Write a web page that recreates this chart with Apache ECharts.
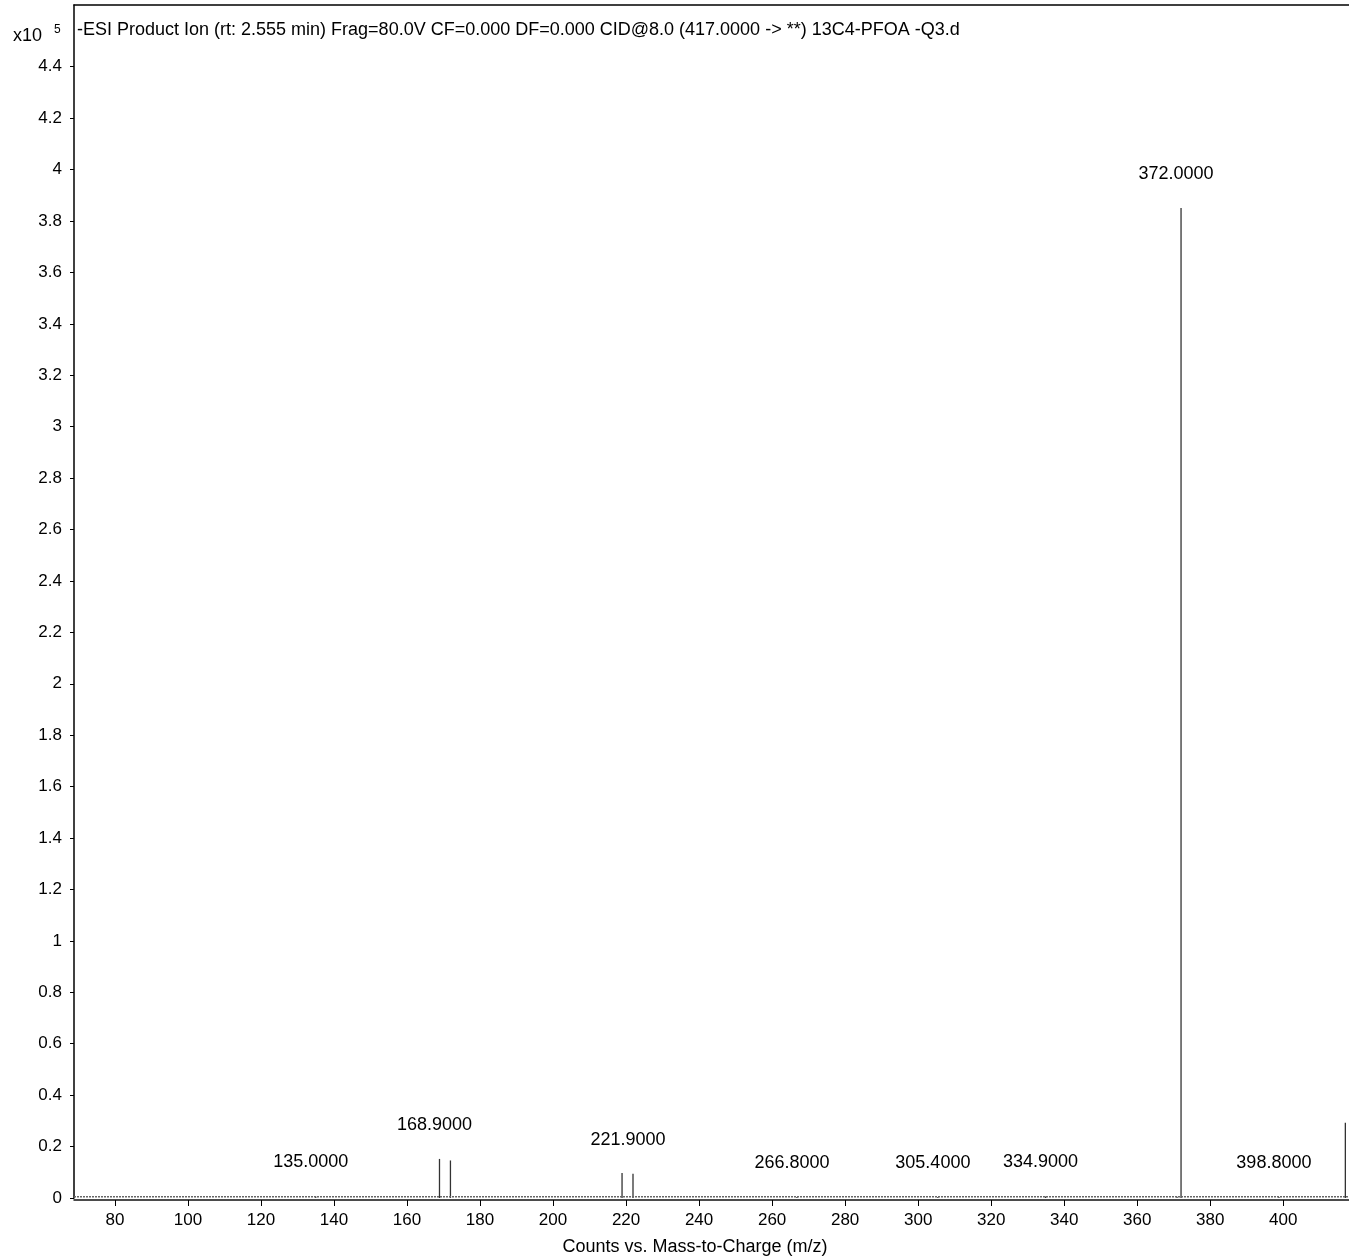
<!DOCTYPE html>
<html>
<head>
<meta charset="utf-8">
<script src="https://cdn.jsdelivr.net/npm/echarts@6/dist/echarts.min.js"></script>
<style>
html,body{margin:0;padding:0;background:#fff;}
#chart{width:1349px;height:1259px;}
</style>
</head>
<body>
<div id="chart"></div>
<script>
// ---- data ----
const titleText = '-ESI Product Ion (rt: 2.555 min) Frag=80.0V CF=0.000 DF=0.000 CID@8.0 (417.0000 -> **) 13C4-PFOA -Q3.d';
const xAxisName = 'Counts vs. Mass-to-Charge (m/z)';
const peakMz =        [135.0, 168.9, 171.9, 218.9, 221.9, 266.8, 305.4, 334.9, 370.9, 372.0, 398.8, 417.0];
const peakIntensity = [0.006, 0.152, 0.146, 0.097, 0.094, 0.004, 0.004, 0.006, 0.005, 3.850, 0.004, 0.293];
const labelledMz = [135.0, 168.9, 221.9, 266.8, 305.4, 334.9, 372.0, 398.8];
const labelTexts = ['135.0000', '168.9000', '221.9000', '266.8000', '305.4000', '334.9000', '372.0000', '398.8000'];
const baselineNoise = [[68.8, 0.005], [418.1, 0.005]];
const xTicks = [80, 100, 120, 140, 160, 180, 200, 220, 240, 260, 280, 300, 320, 340, 360, 380, 400];
const yTicks = [0, 0.2, 0.4, 0.6, 0.8, 1, 1.2, 1.4, 1.6, 1.8, 2, 2.2, 2.4, 2.6, 2.8, 3, 3.2, 3.4, 3.6, 3.8, 4, 4.2, 4.4];
const xRange = [68.8, 418.0];
const yRange = [0, 4.64];

// ---- chart ----
const FONT = "'Liberation Sans', Arial, sans-serif";
const chart = echarts.init(document.getElementById('chart'), null, {renderer: 'canvas'});

const peakData = peakMz.map((m, i) => {
  const li = labelledMz.indexOf(m);
  return [m, peakIntensity[i], li >= 0 ? labelTexts[li] : ''];
});

const option = {
  animation: false,
  backgroundColor: '#fff',
  textStyle: {fontFamily: FONT},
  grid: {left: 74, top: 5, right: 0, bottom: 61, containLabel: false},
  graphic: [
    {type: 'text', left: 77, top: 21, style: {text: titleText, font: '18px ' + FONT, fill: '#000'}},
    {type: 'text', left: 13, top: 27, style: {text: 'x10', font: '18px ' + FONT, fill: '#000'}},
    {type: 'text', left: 54, top: 24, style: {text: '5', font: '12px ' + FONT, fill: '#000'}},
    {type: 'text', x: 695, y: 1247, style: {text: xAxisName, font: '18px ' + FONT, fill: '#000', align: 'center', verticalAlign: 'middle'}}
  ],
  xAxis: [
    {
      type: 'value', position: 'bottom', offset: 2,
      min: xRange[0], max: xRange[1],
      axisLine: {show: true, onZero: false, lineStyle: {color: '#111', width: 1.5}},
      axisTick: {show: true, length: 6, customValues: xTicks, lineStyle: {color: '#000', width: 1}},
      axisLabel: {customValues: xTicks, fontSize: 17, color: '#000', margin: 12, fontFamily: FONT},
      splitLine: {show: false}
    },
    {
      type: 'value', position: 'top',
      min: xRange[0], max: xRange[1],
      axisLine: {show: true, onZero: false, lineStyle: {color: '#000', width: 1.5}},
      axisTick: {show: false}, axisLabel: {show: false}, splitLine: {show: false}
    }
  ],
  yAxis: {
    type: 'value', min: yRange[0], max: yRange[1],
    axisLine: {show: true, onZero: false, lineStyle: {color: '#000', width: 1.5}},
    axisTick: {show: true, length: 4, customValues: yTicks, lineStyle: {color: '#000', width: 1}},
    axisLabel: {customValues: yTicks, fontSize: 17, color: '#000', margin: 12, fontFamily: FONT},
    splitLine: {show: false}
  },
  series: [
    {
      type: 'line', xAxisIndex: 0, data: baselineNoise, symbol: 'none',
      lineStyle: {color: '#666', width: 1.5, type: [2, 1]}, silent: true
    },
    {
      type: 'custom', xAxisIndex: 0,
      data: peakData,
      renderItem: function (params, api) {
        const x = api.value(0), y = api.value(1);
        const p0 = api.coord([x, 0]);
        const p1 = api.coord([x, y]);
        const lab = peakData[params.dataIndex][2];
        const children = [{
          type: 'line',
          shape: {x1: p0[0], y1: p0[1], x2: p1[0], y2: p1[1]},
          style: {stroke: '#333', lineWidth: 1.3}
        }];
        if (lab) {
          children.push({
            type: 'text',
            x: p1[0] - 5, y: p1[1] - 34,
            style: {text: lab, font: '18px ' + FONT, fill: '#000', align: 'center', verticalAlign: 'middle'}
          });
        }
        return {type: 'group', children: children};
      }
    }
  ]
};
chart.setOption(option);
</script>
</body>
</html>
